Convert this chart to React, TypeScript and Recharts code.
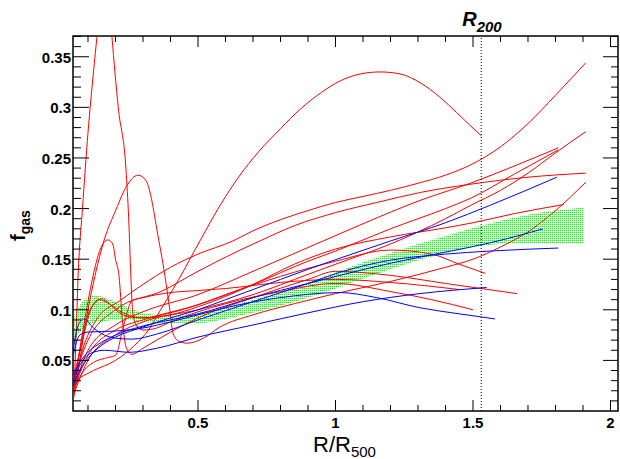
import React from 'react';
import { ComposedChart, Line, Area, XAxis, YAxis, ReferenceLine, ReferenceArea } from 'recharts';

// plot frame in page pixels
const PLOT_LEFT = 73;
const PLOT_RIGHT = 618;
const PLOT_TOP = 36;
const PLOT_BOTTOM = 411;

const X_DOMAIN: [number, number] = [0.0455, 2.0273];
const Y_DOMAIN: [number, number] = [0, 0.3705];
const R200 = 1.53;

const xTicks = Array.from({ length: 20 }, (_, i) => (i + 1) / 10);
const yTicks = Array.from({ length: 37 }, (_, i) => (i + 1) / 100);

// green uncertainty band: [x, low, high]
const band: number[][] = [
  [0.05, 0.07, 0.095], [0.08, 0.08, 0.108], [0.1, 0.085, 0.112], [0.13, 0.088, 0.114],
  [0.16, 0.089, 0.112], [0.2, 0.09, 0.108], [0.25, 0.09, 0.102], [0.3, 0.088, 0.097],
  [0.4, 0.087, 0.094], [0.5, 0.087, 0.097], [0.6, 0.091, 0.103], [0.7, 0.097, 0.11],
  [0.8, 0.104, 0.118], [0.9, 0.112, 0.127], [1.0, 0.121, 0.137], [1.1, 0.131, 0.147],
  [1.2, 0.14, 0.156], [1.3, 0.149, 0.165], [1.4, 0.156, 0.173], [1.5, 0.162, 0.181],
  [1.6, 0.165, 0.188], [1.7, 0.166, 0.194], [1.8, 0.166, 0.198], [1.9, 0.165, 0.201],
];

// red profiles: [x, fgas]
const redArc = [
  [0.05, 0.03], [0.12, 0.04], [0.2, 0.05], [0.27, 0.065], [0.32, 0.08], [0.362, 0.099],
  [0.43, 0.13], [0.507, 0.168], [0.58, 0.203], [0.65, 0.232], [0.72, 0.256], [0.8, 0.279],
  [0.871, 0.298], [0.95, 0.315], [1.016, 0.326], [1.09, 0.333], [1.162, 0.335], [1.235, 0.333],
  [1.31, 0.324], [1.38, 0.31], [1.44, 0.295], [1.49, 0.282], [1.53, 0.272],
];
const redSpike = [
  [0.046, 0.005], [0.052, 0.04], [0.058, 0.085], [0.064, 0.133], [0.08, 0.2], [0.1, 0.275],
  [0.12, 0.335], [0.133, 0.37], [0.15, 0.405], [0.165, 0.415], [0.178, 0.4], [0.187, 0.37],
  [0.21, 0.3], [0.238, 0.239], [0.248, 0.19], [0.256, 0.133], [0.262, 0.1], [0.275, 0.085],
  [0.3, 0.08], [0.35, 0.082], [0.4, 0.088], [0.5, 0.098], [0.6, 0.106], [0.8, 0.118],
  [1.0, 0.126], [1.2, 0.118], [1.35, 0.11], [1.5, 0.1],
];
const redHump = [
  [0.046, 0.01], [0.07, 0.05], [0.1, 0.1], [0.125, 0.133], [0.16, 0.17], [0.202, 0.199],
  [0.24, 0.222], [0.282, 0.233], [0.31, 0.228], [0.329, 0.212], [0.35, 0.18], [0.38, 0.133],
  [0.398, 0.099], [0.409, 0.077], [0.43, 0.069], [0.46, 0.067], [0.52, 0.072], [0.58, 0.083],
  [0.7, 0.095], [0.85, 0.106], [1.0, 0.116], [1.2, 0.128], [1.4, 0.142], [1.5, 0.15],
  [1.6, 0.162], [1.7, 0.177], [1.8, 0.198], [1.91, 0.226],
];
const redSmall = [
  [0.046, 0.015], [0.07, 0.06], [0.1, 0.108], [0.118, 0.133], [0.145, 0.16], [0.173, 0.169],
  [0.19, 0.165], [0.2, 0.15], [0.213, 0.133], [0.225, 0.09], [0.24, 0.062], [0.26, 0.056],
  [0.3, 0.062], [0.4, 0.078], [0.5, 0.092], [0.7, 0.112], [0.9, 0.13], [1.0, 0.138],
  [1.2, 0.134], [1.4, 0.126], [1.66, 0.116],
];
const redWig1 = [
  [0.046, 0.02], [0.07, 0.06], [0.1, 0.095], [0.13, 0.108], [0.15, 0.111], [0.17, 0.108],
  [0.2, 0.1], [0.25, 0.093], [0.3, 0.092], [0.4, 0.097], [0.5, 0.105], [0.6, 0.115],
  [0.8, 0.133], [1.0, 0.148], [1.2, 0.159], [1.35, 0.155], [1.45, 0.145], [1.545, 0.136],
];
const redWig2 = [
  [0.046, 0.03], [0.08, 0.07], [0.11, 0.1], [0.14, 0.11], [0.17, 0.107], [0.22, 0.098],
  [0.3, 0.092], [0.4, 0.095], [0.5, 0.103], [0.7, 0.125], [0.85, 0.145], [1.0, 0.16],
  [1.2, 0.172], [1.4, 0.181], [1.5, 0.186], [1.65, 0.195], [1.83, 0.204],
];
const redWig3 = [
  [0.046, 0.02], [0.08, 0.038], [0.12, 0.048], [0.16, 0.052], [0.2, 0.055], [0.23, 0.085],
  [0.26, 0.109], [0.3, 0.112], [0.4, 0.117], [0.5, 0.119], [0.6, 0.121], [0.8, 0.127],
  [1.0, 0.13], [1.2, 0.127], [1.45, 0.12],
];
const redA = [
  [0.046, 0.02], [0.08, 0.06], [0.13, 0.09], [0.216, 0.109], [0.3, 0.125], [0.4, 0.142],
  [0.5, 0.155], [0.627, 0.168], [0.7, 0.178], [0.8, 0.189], [0.9, 0.198], [1.0, 0.206],
  [1.1, 0.212], [1.2, 0.218], [1.3, 0.225], [1.4, 0.233], [1.49, 0.243], [1.6, 0.261],
  [1.7, 0.284], [1.8, 0.312], [1.91, 0.344],
];
const redC = [
  [0.046, 0.03], [0.1, 0.07], [0.2, 0.1], [0.373, 0.119], [0.5, 0.138], [0.653, 0.159],
  [0.725, 0.168], [0.85, 0.183], [1.0, 0.196], [1.15, 0.206], [1.31, 0.216], [1.49, 0.224],
  [1.7, 0.231], [1.91, 0.235],
];
const redV1 = [
  [0.046, 0.02], [0.1, 0.06], [0.2, 0.085], [0.3, 0.098], [0.5, 0.115], [0.7, 0.138],
  [0.955, 0.168], [1.1, 0.185], [1.307, 0.208], [1.49, 0.225], [1.65, 0.242], [1.81, 0.26],
];
const redV2 = [
  [0.046, 0.02], [0.1, 0.055], [0.2, 0.08], [0.3, 0.09], [0.5, 0.105], [0.7, 0.125],
  [0.9, 0.148], [1.0, 0.158], [1.2, 0.18], [1.4, 0.2], [1.49, 0.21], [1.65, 0.234], [1.81, 0.258],
];
const redB = [
  [0.046, 0.015], [0.1, 0.05], [0.2, 0.075], [0.3, 0.088], [0.5, 0.1], [0.7, 0.115],
  [0.9, 0.135], [1.0, 0.145], [1.2, 0.165], [1.4, 0.19], [1.49, 0.203], [1.6, 0.218],
  [1.7, 0.235], [1.8, 0.255], [1.91, 0.276],
];

// blue profiles
const blueF = [
  [0.046, 0.025], [0.07, 0.04], [0.1, 0.052], [0.15, 0.065], [0.2, 0.073], [0.3, 0.083],
  [0.4, 0.092], [0.5, 0.1], [0.6, 0.11], [0.7, 0.12], [0.8, 0.13], [0.9, 0.14], [1.016, 0.151],
  [1.2, 0.168], [1.4, 0.186], [1.56, 0.203], [1.805, 0.231],
];
const blueH = [
  [0.046, 0.035], [0.07, 0.048], [0.1, 0.058], [0.15, 0.068], [0.2, 0.075], [0.3, 0.084],
  [0.4, 0.09], [0.5, 0.096], [0.7, 0.112], [0.9, 0.126], [1.016, 0.134], [1.2, 0.146],
  [1.4, 0.157], [1.56, 0.166], [1.755, 0.18],
];
const blueI = [
  [0.046, 0.06], [0.065, 0.085], [0.085, 0.091], [0.12, 0.082], [0.16, 0.075], [0.2, 0.072],
  [0.26, 0.071], [0.35, 0.076], [0.5, 0.09], [0.7, 0.108], [0.9, 0.126], [1.016, 0.137],
  [1.2, 0.149], [1.4, 0.155], [1.56, 0.158], [1.81, 0.161],
];
const blueN = [
  [0.046, 0.055], [0.07, 0.075], [0.1, 0.078], [0.2, 0.079], [0.3, 0.082], [0.4, 0.088],
  [0.5, 0.095], [0.65, 0.105], [0.8, 0.112], [1.016, 0.117], [1.15, 0.112], [1.307, 0.102],
  [1.45, 0.096], [1.58, 0.091],
];
const blueK = [
  [0.046, 0.03], [0.07, 0.045], [0.11, 0.057], [0.16, 0.06], [0.25, 0.058], [0.35, 0.062],
  [0.5, 0.073], [0.7, 0.085], [0.9, 0.097], [1.1, 0.108], [1.307, 0.116], [1.55, 0.122],
];

const reds = [redArc, redSpike, redHump, redSmall, redWig1, redWig2, redWig3, redA, redC, redV1, redV2, redB];
const blues = [blueF, blueH, blueI, blueN, blueK];

const toPts = (c: number[][]) => c.map(([x, y]) => ({ x, y }));
const bandData = band.map(([x, lo, hi]) => ({ x, range: [lo, hi] }));

const FONT = '"Liberation Sans", Arial, Helvetica, sans-serif';

function XTick(props: any) {
  const { x, payload } = props;
  const v = payload.value;
  const major = Math.abs(v * 2 - Math.round(v * 2)) < 1e-6;
  const len = major ? 11 : 6;
  return (
    <g>
      <line x1={x} x2={x} y1={PLOT_BOTTOM} y2={PLOT_BOTTOM - len} stroke="#000" />
      <line x1={x} x2={x} y1={PLOT_TOP} y2={PLOT_TOP + len} stroke="#000" />
      {major && (
        <text x={x} y={428} textAnchor="middle" fontFamily={FONT} fontWeight="bold" fontSize={15} fill="#000">
          {String(v)}
        </text>
      )}
    </g>
  );
}

function YTick(props: any) {
  const { y, payload } = props;
  const v = payload.value;
  const major = Math.round(v * 100) % 5 === 0;
  return (
    <g>
      <line x1={PLOT_LEFT} x2={PLOT_LEFT + (major ? 16 : 8)} y1={y} y2={y} stroke="#000" />
      <line x1={PLOT_RIGHT} x2={PLOT_RIGHT - (major ? 15 : 7)} y1={y} y2={y} stroke="#000" />
      {major && (
        <text x={71} y={y + 6} textAnchor="end" fontFamily={FONT} fontWeight="bold" fontSize={15} fill="#000">
          {String(Math.round(v * 100) / 100)}
        </text>
      )}
    </g>
  );
}

function XLabel() {
  return (
    <text x={313} y={452} fontFamily={FONT} fontSize={22} fill="#000">
      R/R<tspan fontSize={15} dy={5}>500</tspan>
    </text>
  );
}

function YLabel() {
  return (
    <text transform="translate(25,241) rotate(-90)" fontFamily={FONT} fontWeight="bold" fontSize={20} fill="#000">
      f<tspan fontSize={14} dy={5}>gas</tspan>
    </text>
  );
}

function R200Label(props: any) {
  const x = props.viewBox ? props.viewBox.x : 481;
  return (
    <text x={x - 19} y={26} fontFamily={FONT} fontWeight="bold" fontStyle="italic" fontSize={20} fill="#000">
      R<tspan fontSize={15} dy={6}>200</tspan>
    </text>
  );
}

export default function App() {
  return (
    <div style={{ position: 'absolute', left: 0, top: 0, background: '#fff' }}>
      <ComposedChart width={620} height={459} margin={{ top: PLOT_TOP, right: 620 - PLOT_RIGHT, bottom: 0, left: 0 }}>
        <defs>
          <pattern id="greenDots" width="2" height="2" patternUnits="userSpaceOnUse">
            <rect x="0" y="0" width="1" height="1" fill="#2ee82e" />
            <rect x="0" y="1" width="1" height="1" fill="#c8fcc8" />
          </pattern>
        </defs>
        <XAxis
          dataKey="x"
          type="number"
          domain={X_DOMAIN}
          allowDataOverflow
          ticks={xTicks}
          interval={0}
          tickSize={0}
          tickMargin={0}
          tickLine={false}
          axisLine={false}
          height={459 - PLOT_BOTTOM}
          tick={<XTick />}
          label={<XLabel />}
        />
        <YAxis
          type="number"
          domain={Y_DOMAIN}
          allowDataOverflow
          ticks={yTicks}
          interval={0}
          tickSize={0}
          tickMargin={0}
          tickLine={false}
          axisLine={false}
          width={PLOT_LEFT}
          tick={<YTick />}
          label={<YLabel />}
        />
        {reds.map((c, i) => (
          <Line
            key={'r' + i}
            data={toPts(c)}
            dataKey="y"
            type="monotone"
            stroke="#ff0000"
            strokeWidth={1}
            dot={false}
            activeDot={false}
            isAnimationActive={false}
          />
        ))}
        <Area
          data={bandData}
          dataKey="range"
          type="monotone"
          stroke="none"
          fill="url(#greenDots)"
          fillOpacity={1}
          isAnimationActive={false}
        />
        {blues.map((c, i) => (
          <Line
            key={'b' + i}
            data={toPts(c)}
            dataKey="y"
            type="monotone"
            stroke="#0000ff"
            strokeWidth={1}
            dot={false}
            activeDot={false}
            isAnimationActive={false}
          />
        ))}
        <ReferenceLine x={R200} stroke="#000" strokeWidth={1} strokeDasharray="1 2" label={<R200Label />} />
        <ReferenceArea
          x1={X_DOMAIN[0]}
          x2={X_DOMAIN[1]}
          y1={Y_DOMAIN[0]}
          y2={Y_DOMAIN[1]}
          fill="none"
          stroke="#000"
          strokeWidth={1.5}
          fillOpacity={0}
        />
      </ComposedChart>
    </div>
  );
}
